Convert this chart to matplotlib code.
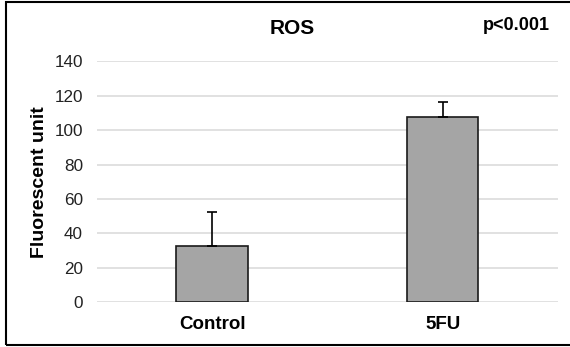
import matplotlib
matplotlib.use("Agg")
from matplotlib import pyplot as plt
from matplotlib.patches import Rectangle
import numpy as np

# Datos
grupos = ["Control", "5FU"]
medias = [32.7, 107.6]
errores = [19.5, 9.0]
ticks_y = [0, 20, 40, 60, 80, 100, 120, 140]

plt.rcParams["font.family"] = ["Liberation Sans", "DejaVu Sans"]

fig = plt.figure(figsize=(5.70, 3.47), dpi=100)
ax = fig.add_axes([0.170, 0.1288, 0.809, 0.6945])

x = np.arange(len(grupos))
ax.bar(x, medias, width=0.31, color="#A5A5A5", edgecolor="#1a1a1a",
       linewidth=1.2, zorder=3)
# Solo la barra de error superior
ax.errorbar(x, medias, yerr=[np.zeros(len(errores)), errores], fmt="none",
            ecolor="black", elinewidth=1.2, capsize=3.5, capthick=1.2, zorder=4)

ax.set_xlim(-0.5, 1.5)
ax.set_ylim(0, 140)
ax.set_yticks(ticks_y)
ax.set_yticklabels([str(t) for t in ticks_y], fontsize=12.3, color="#222222")
ax.set_xticks(x)
ax.set_xticklabels(grupos, fontsize=13.5, fontweight="bold")
ax.tick_params(axis="both", length=0)
ax.tick_params(axis="x", pad=10)
ax.tick_params(axis="y", pad=10)

ax.grid(axis="y", color="#D9D9D9", linewidth=1.1, zorder=0)
for s in ax.spines.values():
    s.set_visible(False)

ax.set_ylabel("Fluorescent unit", fontsize=14, fontweight="bold", labelpad=5)

fig.text(292 / 570, 1 - 29 / 347, "ROS", fontsize=15, fontweight="bold",
         ha="center", va="center")
fig.text(550 / 570, 1 - 25 / 347, "p<0.001", fontsize=13, fontweight="bold",
         ha="right", va="center")

# Marco exterior
fig.patches.append(Rectangle((6 / 570, 2 / 347), 1.2, 343 / 347,
                             transform=fig.transFigure, fill=False,
                             edgecolor="black", linewidth=1.5))

fig.savefig("out.png", dpi=100)
